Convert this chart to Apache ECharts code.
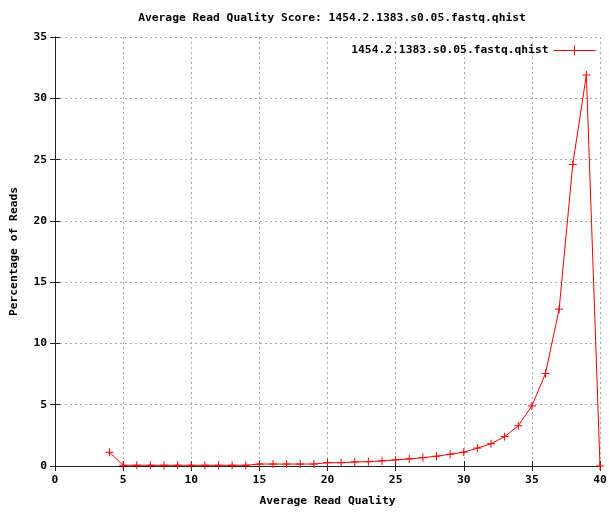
<!DOCTYPE html>
<html><head><meta charset="utf-8">
<script src="https://cdn.jsdelivr.net/npm/echarts@6/dist/echarts.min.js"></script>
<style>html,body{margin:0;padding:0;background:#fff}#c{width:609px;height:516px}</style>
</head><body><div id="c"></div>
<script>
var quality = [4,5,6,7,8,9,10,11,12,13,14,15,16,17,18,19,20,21,22,23,24,25,26,27,28,29,30,31,32,33,34,35,36,37,38,39,40];
var percent = [1.12,0.06,0.06,0.06,0.06,0.06,0.06,0.06,0.06,0.06,0.06,0.16,0.16,0.16,0.16,0.16,0.27,0.27,0.33,0.35,0.42,0.5,0.58,0.68,0.8,0.96,1.13,1.46,1.82,2.4,3.28,4.9,7.55,12.8,24.6,31.9,0];
var seriesName = '1454.2.1383.s0.05.fastq.qhist';
var titleText = 'Average Read Quality Score: 1454.2.1383.s0.05.fastq.qhist';

var font = 'DejaVu Sans Mono';
var fs = 11.3;
var chart = echarts.init(document.getElementById('c'));
var axisCommon = {
  axisLine:{lineStyle:{color:'#222',width:1}},
  axisTick:{inside:true,length:5,lineStyle:{color:'#222'}},
  splitLine:{show:false}
};
var txt = {fontFamily:font,fontSize:fs,fontWeight:'bold',color:'#000'};
chart.setOption({
  animation:false,
  backgroundColor:'#fff',
  title:{text:titleText,left:327,top:8,textAlign:'center',textStyle:txt},
  legend:{data:[seriesName],right:6,top:38,align:'right',itemWidth:42,itemHeight:10,itemGap:6,
    icon:'path://M0,5L42,5M21,0L21,10',
    itemStyle:{color:'none',borderColor:'#f00',borderWidth:1},
    lineStyle:{width:0},
    textStyle:txt},
  grid:{left:55,right:9,top:37,bottom:50,containLabel:false,outerBoundsMode:'none'},
  xAxis:[
    Object.assign({type:'value',min:0,max:40,interval:5,position:'bottom',
      name:'Average Read Quality',nameLocation:'middle',nameGap:30,
      nameTextStyle:txt,
      axisLabel:Object.assign({margin:9},txt),
    },axisCommon,{splitLine:{show:true,lineStyle:{color:'#aaa',type:[2,3],width:1}}}),
    Object.assign({type:'value',min:0,max:40,interval:5,position:'top',axisLabel:{show:false}},axisCommon)
  ],
  yAxis:[
    Object.assign({type:'value',min:0,max:35,interval:5,position:'left',
      name:'Percentage of Reads',nameLocation:'middle',nameGap:35,
      nameTextStyle:txt,
      axisLabel:Object.assign({margin:8},txt),
    },axisCommon,{splitLine:{show:true,lineStyle:{color:'#aaa',type:[2,3],width:1}}}),
    Object.assign({type:'value',min:0,max:35,interval:5,position:'right',axisLabel:{show:false}},axisCommon)
  ],
  series:[{
    name:seriesName,type:'line',
    data:quality.map(function(q,i){return [q,percent[i]];}),
    symbol:'path://M5,0L5,10M0,5L10,5',symbolSize:8,showSymbol:true,
    lineStyle:{color:'#f00',width:1},
    itemStyle:{color:'none',borderColor:'#f00',borderWidth:1},
    clip:false
  }]
});
</script></body></html>
